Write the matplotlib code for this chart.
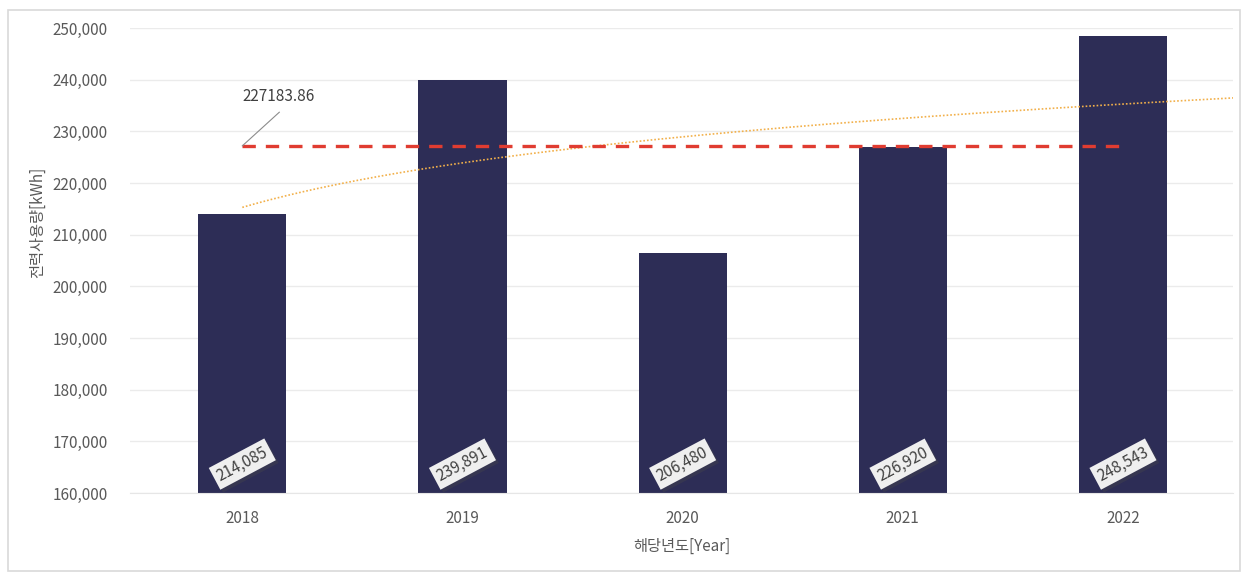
import matplotlib.pyplot as plt
import matplotlib.patheffects as pe
import matplotlib.ticker as mticker
from matplotlib.patches import Rectangle
import numpy as np

plt.rcParams['font.family'] = ['Noto Sans CJK KR', 'DejaVu Sans']

YEARS = ["2018", "2019", "2020", "2021", "2022"]
USAGE = [214085, 239891, 206480, 226920, 248543]
AVERAGE = 227183.86

BAR_COLOR = "#2d2d56"
TEXT_COLOR = "#595959"

x = np.arange(len(YEARS))
usage = np.array(USAGE, dtype=float)

# logarithmic trendline, y = a*ln(n) + b with n = 1..5
a, b = np.polyfit(np.log(x + 1), usage, 1)
trend_x = np.linspace(0, 4.5, 200)
trend_y = a * np.log(trend_x + 1) + b

fig = plt.figure(figsize=(12.43, 5.73), dpi=100)
ax = fig.add_axes([0.1046, 0.1396, 0.8874, 0.8115])

fig.patches.append(Rectangle((8 / 1243, 1 - 571 / 573), 1232 / 1243, 561 / 573,
                             transform=fig.transFigure, fill=False,
                             edgecolor="#d9d9d9", linewidth=1.2))

ax.bar(x, usage, width=0.4, color=BAR_COLOR, zorder=2)
ax.plot(trend_x, trend_y, linestyle=(0, (1, 1.2)), color="#f2b04a", linewidth=1.2, zorder=3)
ax.plot([0, 4], [AVERAGE, AVERAGE], linestyle=(0, (4, 3)), color="#e03c31",
        linewidth=2.4, zorder=4)

# average value label with a thin leader line
ax.plot([0, 0.168], [AVERAGE, 233700], color="#8c8c8c", linewidth=0.8, zorder=4)
ax.text(0, 236650, f"{AVERAGE:.2f}", ha="left", va="center", fontsize=11,
        color="#404040")

shadow = [pe.withSimplePatchShadow(offset=(2, -2), alpha=0.35)]
for xi, v in zip(x, USAGE):
    t = ax.text(xi, 165600, f"{v:,}", rotation=28, ha="center", va="center",
                fontsize=11, color="#404040", zorder=5,
                bbox=dict(boxstyle="square,pad=0.25", facecolor="#efefef",
                          edgecolor="none"))
    t.get_bbox_patch().set_path_effects(shadow)

ax.set_xlim(-0.51, 4.5)
ax.set_ylim(160000, 250000)
ax.set_yticks(np.arange(160000, 250001, 10000))
ax.yaxis.set_major_formatter(mticker.StrMethodFormatter("{x:,.0f}"))
ax.set_xticks(x)
ax.set_xticklabels(YEARS)
ax.tick_params(axis="both", length=0, labelsize=11, colors=TEXT_COLOR)
ax.tick_params(axis="x", pad=12)
ax.tick_params(axis="y", pad=16)
ax.grid(axis="y", color="#ebebeb", linewidth=1, zorder=0)
for s in ax.spines.values():
    s.set_visible(False)
ax.spines["bottom"].set_visible(True)
ax.spines["bottom"].set_color("#e6e6e6")

ax.set_xlabel("해당년도[Year]", fontsize=11, color=TEXT_COLOR, labelpad=8)
fig.text(37 / 1243, 1 - 222 / 573, "전력사용량[kWh]", rotation=90, ha="center",
         va="center", fontsize=11, color=TEXT_COLOR)

fig.savefig("out.png", dpi=100, facecolor="white")
